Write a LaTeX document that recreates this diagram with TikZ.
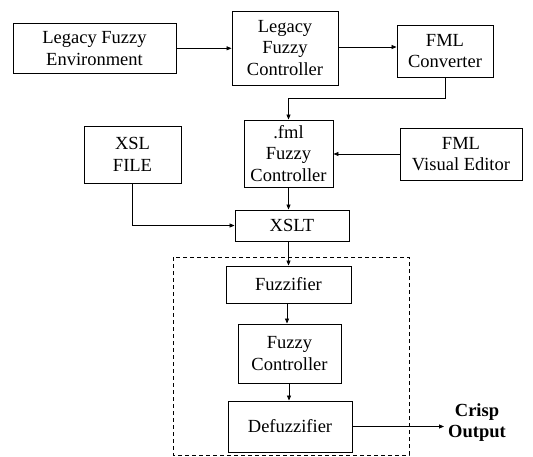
\documentclass[tikz,border=0pt]{standalone}
\usepackage{fontspec}
\setmainfont{Liberation Serif}
\usetikzlibrary{arrows.meta}
\begin{document}
\begin{tikzpicture}[x=1pt,y=-1pt,
  blk/.style={draw,line width=0.9pt,rectangle,inner sep=0pt,align=center,
    font=\fontsize{18.5}{21.5}\selectfont},
  arr/.style={line width=0.8pt,-{Triangle[length=5pt,width=4pt]}},
  ln/.style={line width=0.8pt}]
\useasboundingbox (0,0) rectangle (533,456);
\node[blk,minimum width=163pt,minimum height=50pt] (env) at (94.5,48.3) {Legacy Fuzzy\\Environment};
\node[blk,minimum width=106pt,minimum height=74pt] (lfc) at (285,48) {Legacy\\Fuzzy\\Controller};
\node[blk,minimum width=96pt,minimum height=52pt] (conv) at (445,51) {FML\\Converter};
\node[blk,minimum width=89pt,minimum height=67pt] (fml) at (288.5,153.5) {.fml\\Fuzzy\\Controller};
\node[blk,minimum width=122pt,minimum height=52pt] (editor) at (461,154) {FML\\Visual Editor};
\node[blk,minimum width=97pt,minimum height=57pt] (xsl) at (132.5,154.5) {XSL\\FILE};
\node[blk,minimum width=114pt,minimum height=31pt] (xslt) at (292,225.5) {XSLT};
\draw[line width=1pt,dash pattern=on 4pt off 3pt] (173,257) rectangle (409,455);
\node[blk,minimum width=125pt,minimum height=37pt] (fuzz) at (288.5,284.5) {Fuzzifier};
\node[blk,minimum width=103pt,minimum height=59pt] (fc) at (289.5,353.5) {Fuzzy\\Controller};
\node[blk,minimum width=124pt,minimum height=51pt] (defuz) at (290,426.5) {Defuzzifier};
\node[align=center,inner sep=4pt,font=\fontsize{18.5}{21}\selectfont\bfseries] (crisp) at (477,423) {Crisp\\Output};
\draw[arr] (env.east) -- (env.east -| lfc.west);
\draw[arr] (lfc.east |- 0,47) -- (conv.west |- 0,47);
\draw[arr] (conv.south) -- ++(0,21) -| (fml.north);
\draw[arr] (editor.west) -- (editor.west -| fml.east);
\draw[arr] (fml.south) -- (fml.south |- xslt.north);
\draw[arr] (xsl.south) |- (xslt.west);
\draw[arr] (fuzz.north |- xslt.south) -- (fuzz.north);
\draw[arr] (fuzz.south -| 287,0) -- (fc.north -| 287,0);
\draw[arr] (fc.south -| 289,0) -- (defuz.north -| 289,0);
\draw[arr] (defuz.east) -- (defuz.east -| crisp.west);
\end{tikzpicture}
\end{document}
